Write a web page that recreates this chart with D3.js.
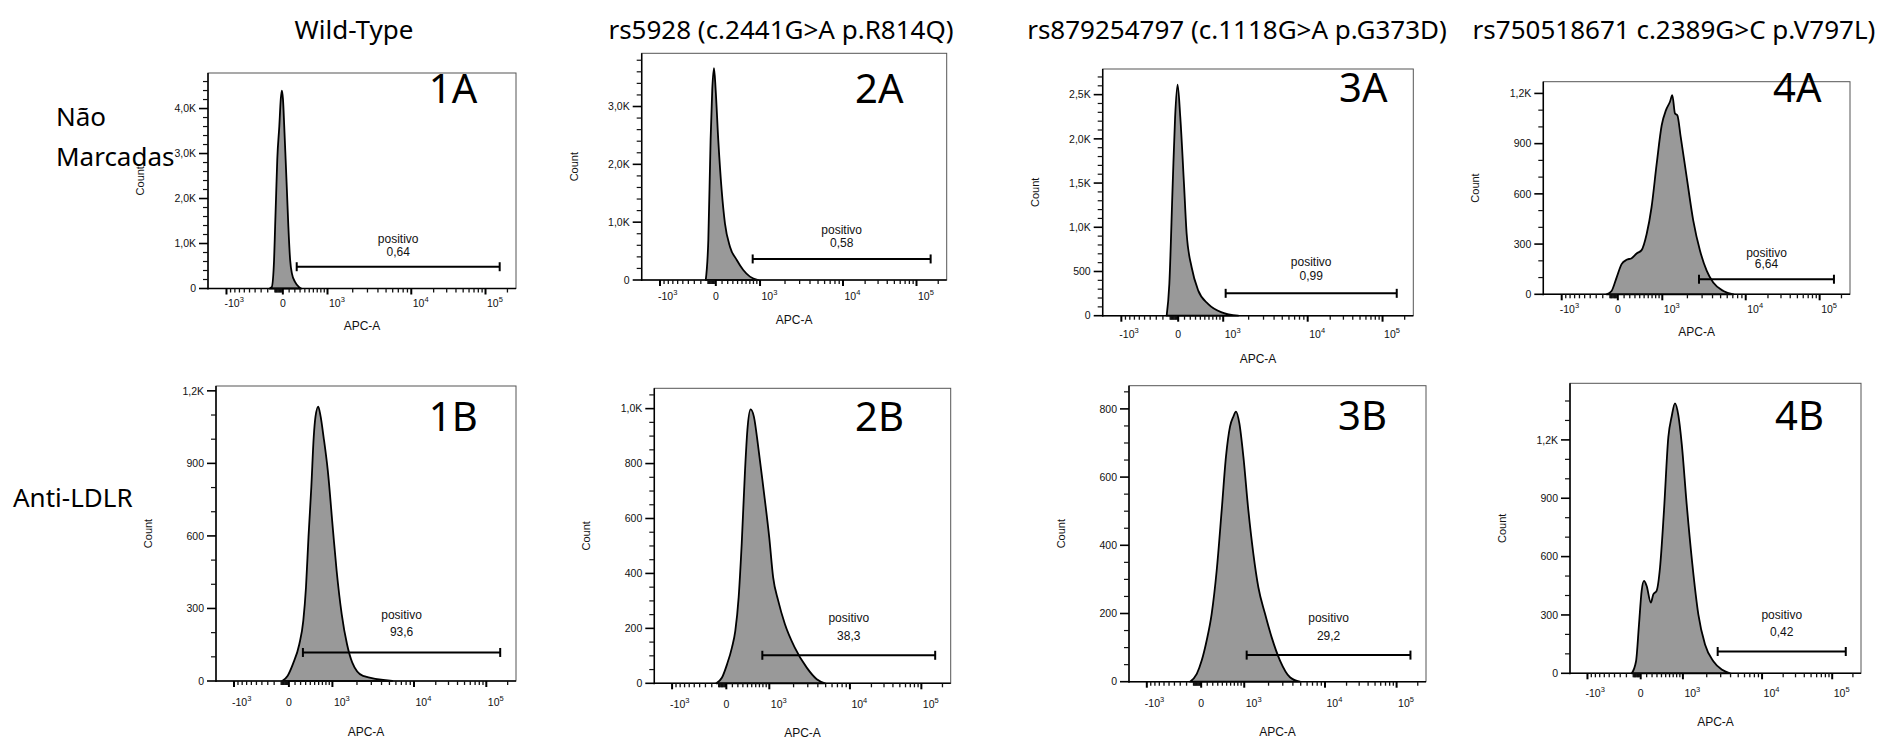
<!DOCTYPE html>
<html>
<head>
<meta charset="utf-8">
<script src="https://cdn.jsdelivr.net/npm/d3@7"></script>
<style>
body { margin: 0; background: #fff; }
</style>
</head>
<body>
<div id="chart-area"></div>
<script>
var width = 1879, height = 739;

// column / row titles
var colTitles = ["Wild-Type", "rs5928 (c.2441G>A p.R814Q)", "rs879254797 (c.1118G>A p.G373D)", "rs750518671 c.2389G>C p.V797L)"];
var rowTitles = [["Não", "Marcadas"], ["Anti-LDLR"]];
var panelNames = ["1A", "2A", "3A", "4A", "1B", "2B", "3B", "4B"];

// histograms, [APC-A, count]
var hist1A = [[-175,0],[-143,30],[-111,633],[-97,1380],[-83,2123],[-69,2868],[-43,3613],[-25,4209],[-12,4400],[2,4209],[21,3613],[43,2868],[65,2123],[87,1378],[117,633],[147,335],[203,149],[276,37],[325,0]];
var hist2A = [[-130,0],[-95,692],[-65,2423],[-44,3289],[-22,3664],[-2,3289],[38,2423],[93,1558],[150,981],[243,577],[382,346],[531,173],[702,58],[941,0]];
var hist3A = [[-147,0],[-111,359],[-67,1491],[-37,2247],[-7,2613],[32,2247],[91,1491],[136,925],[225,548],[356,283],[583,132],[953,38],[1507,0]];
var hist4A = [[-145,0],[-78,20],[-15,100],[59,180],[143,206],[235,216],[335,244],[442,264],[561,360],[686,520],[829,780],[981,1010],[1107,1100],[1236,1150],[1318,1190],[1420,1080],[1514,1070],[1662,940],[1960,700],[2351,440],[2833,260],[3413,140],[4076,70],[5390,20],[7130,0]];
var hist1B = [[-86,0],[-17,21],[62,69],[176,152],[252,249],[307,388],[360,595],[423,803],[479,1010],[521,1093],[589,1135],[653,1093],[732,1010],[854,872],[1017,623],[1126,457],[1300,277],[1511,152],[1753,76],[2371,21],[5430,0]];
var hist2B = [[-133,0],[-55,21],[11,69],[92,130],[152,191],[215,313],[276,508],[346,776],[398,922],[473,997],[553,971],[667,861],[810,715],[997,532],[1116,386],[1289,301],[1560,216],[2071,130],[2913,57],[3875,15],[4912,0]];
var hist3B = [[-149,0],[-56,23],[8,62],[90,121],[180,199],[278,326],[385,503],[484,660],[584,748],[672,777],[747,792],[845,758],[972,660],[1124,503],[1297,375],[1495,277],[1809,199],[2187,130],[2773,62],[3684,13],[4902,0]];
var hist4B = [[-121,0],[-61,62],[-22,251],[15,424],[54,475],[100,449],[177,363],[225,406],[292,424],[367,544],[459,837],[568,1215],[656,1319],[751,1388],[852,1327],[960,1181],[1115,871],[1316,561],[1566,303],[1903,148],[2424,62],[3090,19],[3935,0]];
var hists = [hist1A, hist2A, hist3A, hist4A, hist1B, hist2B, hist3B, hist4B];

// "positivo" gate
var gateValues = ["0,64", "0,58", "0,99", "6,64", "93,6", "38,3", "29,2", "0,42"];
var gateStart = [235, 778, 1069, 2753, 245, 783, 1072, 2750];
var gateEnd = [156500, 157000, 156000, 157500, 157000, 157500, 157500, 157500];
var gateCount = [484, 364, 253, 90, 118, 102, 78, 112];

// y axes
var yMax = [4790, 3920, 2790, 1270, 1220, 1074, 868, 1491];
var yMajor = [1000, 1000, 500, 300, 300, 200, 200, 300];
var yMinor = [200, 200, 100, 100, 100, 50, 50, 100];

// x axis (biexponential)
var xMajorTicks = [-1000, 0, 1000, 10000, 100000];
var xMajorLabels = [["-10", "3"], ["0", ""], ["10", "3"], ["10", "4"], ["10", "5"]];
var xMinorTicks = [-900, -800, -700, -600, -500, -400, -300, -200, -100, -90, -80, -70, -60, -50, -40, -30, -20, -10,
  100, 200, 300, 400, 500, 600, 700, 800, 900,
  2000, 3000, 4000, 5000, 6000, 7000, 8000, 9000,
  20000, 30000, 40000, 50000, 60000, 70000, 80000, 90000, 200000];

// layout of each pasted panel
var frames = [
  {L: 208, R: 516, T: 73, B: 288.5, lab: [428.8, 102.7], tickDy: 18, axDy: 41, gl: [-24, -11]},
  {L: 641.7, R: 946.7, T: 53.3, B: 280, lab: [855, 102.7], tickDy: 20, axDy: 44, gl: [-25, -12]},
  {L: 1102.7, R: 1413.3, T: 69, B: 315.7, lab: [1339, 102.3], tickDy: 22, axDy: 47, gl: [-27, -13]},
  {L: 1543.3, R: 1850, T: 81.7, B: 294.3, lab: [1773, 102.3], tickDy: 19, axDy: 42, gl: [-22, -11]},
  {L: 216, R: 516, T: 386, B: 681, lab: [428.8, 431], tickDy: 25, axDy: 55, gl: [-33, -16]},
  {L: 654.3, R: 950.7, T: 388.3, B: 683.3, lab: [855, 431], tickDy: 25, axDy: 54, gl: [-33, -15]},
  {L: 1129, R: 1426, T: 385.7, B: 681.7, lab: [1338, 430], tickDy: 25, axDy: 54, gl: [-33, -15]},
  {L: 1570, R: 1861, T: 383.3, B: 673.3, lab: [1775, 430], tickDy: 24, axDy: 53, gl: [-33, -16]}
];

function tval(v) {
  var a = Math.abs(v), s = v < 0 ? -1 : 1;
  if (a <= 1000) return s * Math.log10(1 + a / 900) / Math.log10(1 + 1000 / 900);
  return s * (1 + Math.log10(a / 1000));
}
var tDomain = [-1, 0, 1, 2, 3, tval(262144)];
var tFrac = [0.060, 0.243, 0.388, 0.660, 0.901, 1.0];

function fmtY(v) {
  return v >= 1000 ? (v / 1000).toFixed(1).replace(".", ",") + "K" : String(v);
}

var svg = d3.select("#chart-area").append("svg")
  .attr("width", width)
  .attr("height", height)
  .style("font-family", "'Liberation Sans', Arial, sans-serif");

svg.append("rect").attr("width", width).attr("height", height).attr("fill", "#fff");

var titleX = [354, 781, 1237, 1674];
svg.selectAll(".col-title").data(colTitles).enter().append("text")
  .attr("class", "col-title")
  .attr("x", (d, i) => titleX[i])
  .attr("y", 39)
  .attr("text-anchor", "middle")
  .attr("font-family", "'Noto Sans', sans-serif")
  .attr("font-size", "26px")
  .text(d => d);

svg.append("text").attr("x", 56).attr("y", 126)
  .attr("font-family", "'Noto Sans', sans-serif").attr("font-size", "26px").text(rowTitles[0][0]);
svg.append("text").attr("x", 56).attr("y", 166)
  .attr("font-family", "'Noto Sans', sans-serif").attr("font-size", "26px").text(rowTitles[0][1]);
svg.append("text").attr("x", 13).attr("y", 507)
  .attr("font-family", "'Noto Sans', sans-serif").attr("font-size", "26px").text(rowTitles[1][0]);

frames.forEach(function(f, i) {
  var g = svg.append("g");
  var pw = f.R - f.L;

  var xt = d3.scaleLinear().domain(tDomain).range(tFrac.map(p => f.L + p * pw));
  var x = v => xt(tval(v));
  var y = d3.scaleLinear().domain([0, yMax[i]]).range([f.B, f.T]);

  // histogram
  var area = d3.area()
    .x(d => x(d[0]))
    .y0(y(0))
    .y1(d => y(d[1]))
    .curve(d3.curveMonotoneX);

  g.append("path")
    .datum(hists[i])
    .attr("d", area)
    .attr("fill", "#999")
    .attr("stroke", "#000")
    .attr("stroke-width", 1.8)
    .attr("stroke-linejoin", "round");

  // frame
  g.append("rect")
    .attr("x", f.L).attr("y", f.T)
    .attr("width", pw).attr("height", f.B - f.T)
    .attr("fill", "none").attr("stroke", "#555").attr("stroke-width", 1);
  g.append("line").attr("x1", f.L).attr("x2", f.L).attr("y1", f.T).attr("y2", f.B + 1)
    .attr("stroke", "#000").attr("stroke-width", 1.5);
  g.append("line").attr("x1", f.L).attr("x2", f.R).attr("y1", f.B).attr("y2", f.B)
    .attr("stroke", "#000").attr("stroke-width", 1.5);

  // y ticks
  var majors = d3.range(0, yMax[i] + 1, yMajor[i]);
  var minors = d3.range(0, yMax[i], yMinor[i]).filter(v => v % yMajor[i] !== 0);
  g.selectAll(".ymin").data(minors).enter().append("line")
    .attr("x1", f.L - 5).attr("x2", f.L)
    .attr("y1", d => y(d)).attr("y2", d => y(d))
    .attr("stroke", "#111").attr("stroke-width", 1.2);
  g.selectAll(".ymaj").data(majors).enter().append("line")
    .attr("x1", f.L - 9).attr("x2", f.L)
    .attr("y1", d => y(d)).attr("y2", d => y(d))
    .attr("stroke", "#000").attr("stroke-width", 1.6);
  g.selectAll(".ylab").data(majors).enter().append("text")
    .attr("x", f.L - 12)
    .attr("y", d => y(d))
    .attr("dy", "0.35em")
    .attr("text-anchor", "end")
    .attr("font-size", "10.5px")
    .attr("fill", "#111")
    .text(fmtY);

  // x ticks
  g.selectAll(".xmin").data(xMinorTicks).enter().append("line")
    .attr("x1", d => x(d)).attr("x2", d => x(d))
    .attr("y1", f.B).attr("y2", f.B + 4)
    .attr("stroke", "#111").attr("stroke-width", 1.3);
  g.selectAll(".xmaj").data(xMajorTicks).enter().append("line")
    .attr("x1", d => x(d)).attr("x2", d => x(d))
    .attr("y1", f.B).attr("y2", f.B + 6)
    .attr("stroke", "#000").attr("stroke-width", 2);

  xMajorTicks.forEach(function(v, k) {
    var lab = xMajorLabels[k];
    var t = g.append("text")
      .attr("y", f.B + f.tickDy)
      .attr("font-size", "10.5px")
      .attr("fill", "#111");
    if (lab[1] === "") {
      t.attr("x", x(v)).attr("text-anchor", "middle").text(lab[0]);
    } else {
      t.attr("x", x(v) + (v < 0 ? -2 : 1.5));
      t.append("tspan").text(lab[0]);
      t.append("tspan").attr("font-size", "7.5px").attr("dy", -5).text(lab[1]);
    }
  });

  // axis titles
  g.append("text")
    .attr("x", (f.L + f.R) / 2)
    .attr("y", f.B + f.axDy)
    .attr("text-anchor", "middle")
    .attr("font-size", "12px")
    .attr("fill", "#111")
    .text("APC-A");
  g.append("text")
    .attr("transform", "translate(" + (f.L - 64) + "," + ((f.T + f.B) / 2) + ") rotate(-90)")
    .attr("text-anchor", "middle")
    .attr("font-family", "'Liberation Sans Narrow', 'Liberation Sans', sans-serif")
    .attr("font-size", "11px")
    .attr("fill", "#111")
    .text("Count");

  // gate
  var gx1 = x(gateStart[i]), gx2 = x(gateEnd[i]), gy = y(gateCount[i]);
  g.append("line").attr("x1", gx1).attr("x2", gx2).attr("y1", gy).attr("y2", gy)
    .attr("stroke", "#000").attr("stroke-width", 2);
  [gx1, gx2].forEach(function(px) {
    g.append("line").attr("x1", px).attr("x2", px).attr("y1", gy - 4.5).attr("y2", gy + 4.5)
      .attr("stroke", "#000").attr("stroke-width", 2);
  });
  g.append("text")
    .attr("x", (gx1 + gx2) / 2).attr("y", gy + f.gl[0])
    .attr("text-anchor", "middle").attr("font-size", "12px").attr("fill", "#111")
    .text("positivo");
  g.append("text")
    .attr("x", (gx1 + gx2) / 2).attr("y", gy + f.gl[1])
    .attr("text-anchor", "middle").attr("font-size", "12px").attr("fill", "#111")
    .text(gateValues[i]);

  // panel name
  g.append("text")
    .attr("x", f.lab[0]).attr("y", f.lab[1])
    .attr("font-family", "'Noto Sans', sans-serif")
    .attr("font-size", "40px")
    .text(panelNames[i]);
});
</script>
</body>
</html>
